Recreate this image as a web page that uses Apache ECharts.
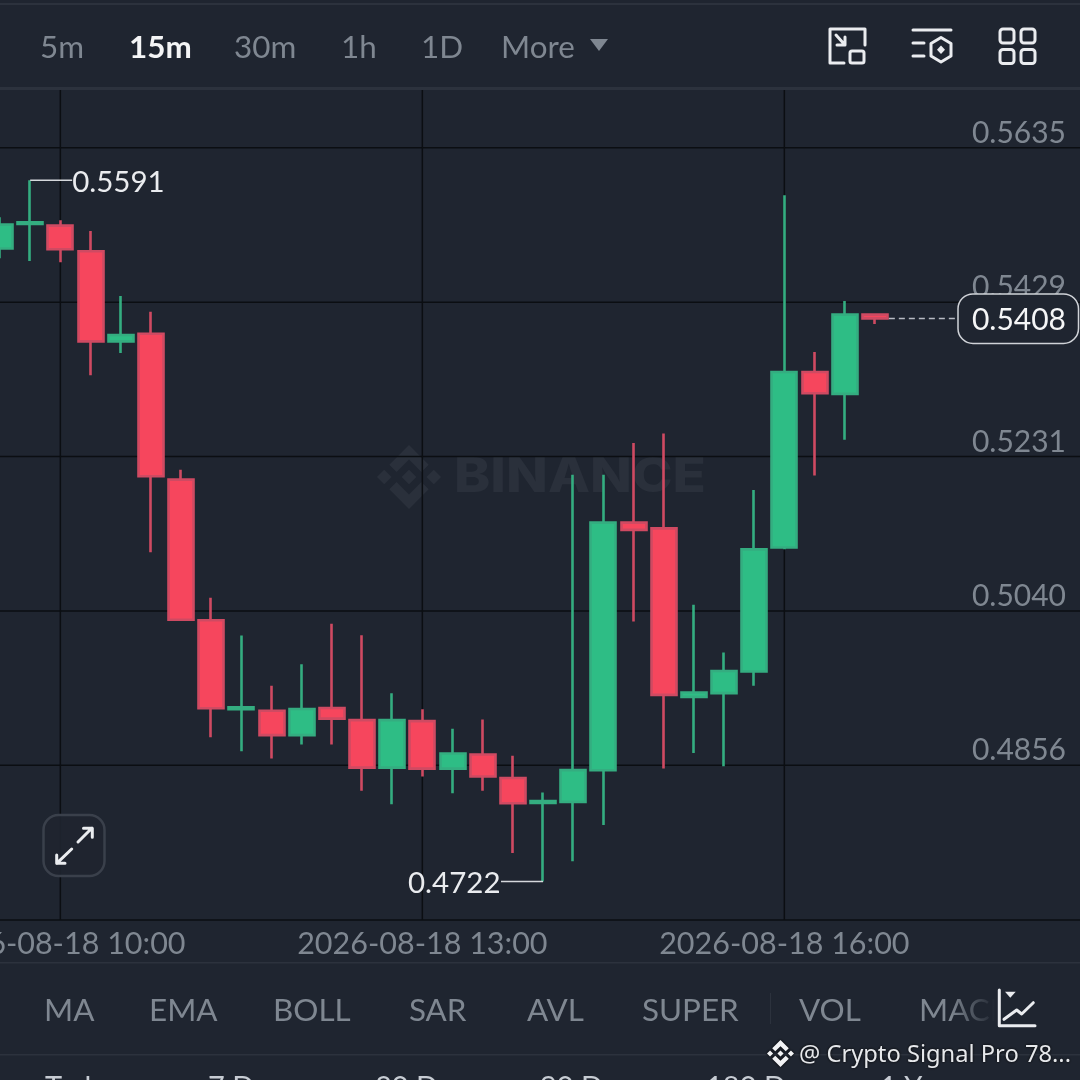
<!DOCTYPE html>
<html>
<head>
<meta charset="utf-8">
<style>html,body{margin:0;padding:0;background:#1f2530}#c{width:1080px;height:1080px}</style>
<script src="https://cdn.jsdelivr.net/npm/echarts@6/dist/echarts.min.js"></script>
</head>
<body>
<div id="c"></div>
<script>
// ---------- data ----------
const times = [
 '2026-08-18 09:30','2026-08-18 09:45','2026-08-18 10:00','2026-08-18 10:15','2026-08-18 10:30','2026-08-18 10:45',
 '2026-08-18 11:00','2026-08-18 11:15','2026-08-18 11:30','2026-08-18 11:45','2026-08-18 12:00','2026-08-18 12:15',
 '2026-08-18 12:30','2026-08-18 12:45','2026-08-18 13:00','2026-08-18 13:15','2026-08-18 13:30','2026-08-18 13:45',
 '2026-08-18 14:00','2026-08-18 14:15','2026-08-18 14:30','2026-08-18 14:45','2026-08-18 15:00','2026-08-18 15:15',
 '2026-08-18 15:30','2026-08-18 15:45','2026-08-18 16:00','2026-08-18 16:15','2026-08-18 16:30','2026-08-18 16:45',
 '2026-08-18 17:00','2026-08-18 17:15','2026-08-18 17:30','2026-08-18 17:45','2026-08-18 18:00','2026-08-18 18:15','2026-08-18 18:30'
];
// open, close, low, high
const candles = [
 [0.54998,0.55315,0.54868,0.55415],[0.55325,0.55345,0.54832,0.5591],[0.55302,0.54988,0.54815,0.55375],
 [0.54962,0.53781,0.53344,0.55229],[0.53781,0.53863,0.53631,0.54374],[0.5388,0.52061,0.51118,0.54166],
 [0.52019,0.50293,0.50284,0.52144],[0.50287,0.49232,0.4889,0.50561],[0.4922,0.49243,0.48723,0.50102],
 [0.49202,0.48914,0.48639,0.49498],[0.48914,0.49222,0.48803,0.49756],[0.49234,0.49109,0.48803,0.50245],
 [0.49091,0.48532,0.48264,0.50106],[0.48532,0.49091,0.48107,0.49411],[0.49079,0.48521,0.48429,0.4922],
 [0.48521,0.48698,0.48233,0.4899],[0.48686,0.48429,0.48264,0.49097],[0.48411,0.48118,0.47543,0.48672],
 [0.48122,0.48143,0.4722,0.48241],[0.48134,0.48503,0.47451,0.52079],[0.48502,0.51483,0.47865,0.52079],
 [0.51483,0.51393,0.50272,0.52481],[0.51412,0.4939,0.48521,0.526],[0.49367,0.49419,0.48704,0.50474],
 [0.49411,0.49675,0.48549,0.49896],[0.49669,0.51153,0.49498,0.51888],[0.51176,0.53385,0.51155,0.55709],
 [0.53385,0.53113,0.5207,0.53643],[0.53105,0.54129,0.5252,0.54307],[0.54129,0.5408,0.54008,0.54129]
];
const priceTicks = [0.5635,0.5429,0.5231,0.5040,0.4856];
const timeTicks = ['2026-08-18 10:00','2026-08-18 13:00','2026-08-18 16:00'];
const highMark = ['2026-08-18 09:45',0.5591];
const lowMark = ['2026-08-18 14:00',0.4722];
const lastMark = ['2026-08-18 16:45',0.5408];
const tabs = ['5m','15m','30m','1h','1D','More'];
const indicators = ['MA','EMA','BOLL','SAR','AVL','SUPER','VOL','MACD'];
const ranges = ['Today','7 Days','30 Days','90 Days','180 Days','1 Y'];

// ---------- style ----------
const BG='#1f2530', LINE='#0b0e12', GRAY='#7f8791', WHITE='#eaecef', RULE='#2c323d', FONT='Lato';
const logoPath='M9.79 13.47L16 7.26l6.21 6.21 3.62-3.62L16 0 6.17 9.83zM0 16l3.62-3.62L7.24 16l-3.62 3.62zM9.79 18.53L16 24.74l6.21-6.21 3.62 3.62L16 32 6.17 22.17zM24.76 16l3.62-3.62L32 16l-3.62 3.62zM19.67 16L16 19.67 12.33 16 16 12.33z';

const tabX=[40,129,234,341,421,501];
const indX=[44,149,273,409,527,642,799,919];
const rangeX=[45,208,375,540,706,880];

function T(text,x,y,fs,fill,extra){
  return {type:'text',z:10,silent:true,x:x,y:y,style:Object.assign({text:text,fontFamily:FONT,fontSize:fs,fill:fill,verticalAlign:'middle'},extra||{})};
}
function L(d){
  return {type:'path',shape:{pathData:d},style:{fill:null,stroke:WHITE,lineWidth:3,lineCap:'round',lineJoin:'round'}};
}
function R(x,y,w,h,fill){
  return {type:'rect',z:9,silent:true,shape:{x:x,y:y,width:w,height:h},style:{fill:fill}};
}
const chrome=[
  // rules
  R(0,3,1080,2,RULE),R(0,87,1080,3,RULE),R(0,962,1080,1.5,RULE),R(0,1054,1080,1.5,RULE),
  R(770,993,1,31,RULE),
  {type:'text',z:0,silent:true,x:454,y:477.5,scaleX:1.14,style:{text:'BINANCE',fontFamily:'Inter',fontWeight:800,fontSize:48,fill:'#2a303b',verticalAlign:'middle'}}
];
tabs.forEach((t,i)=>chrome.push(T(t,tabX[i],48,31.4,t==='15m'?'#f4f5f6':GRAY,{fontWeight:t==='15m'?700:400})));
chrome.push({type:'polygon',z:10,silent:true,shape:{points:[[590,39],[608,39],[599,51]]},style:{fill:GRAY}});
indicators.forEach((t,i)=>chrome.push(T(t,indX[i],1011,31.4,GRAY)));
ranges.forEach((t,i)=>chrome.push(T(t,rangeX[i],1088,29,'#c7ccd3')));
// fade over MACD
chrome.push({type:'rect',z:11,silent:true,shape:{x:950,y:985,width:45,height:50},style:{fill:{type:'linear',x:0,y:0,x2:1,y2:0,colorStops:[{offset:0,color:'rgba(31,37,48,0)'},{offset:1,color:BG}]}}});
chrome.push(Object.assign(R(995,985,85,50,BG),{z:11}));
const strokeRect=(x,y,w,h,r)=>({type:'rect',z:12,silent:true,shape:{x:x,y:y,width:w,height:h,r:r},style:{fill:'transparent',stroke:WHITE,lineWidth:3}});
chrome.push(
 strokeRect(850,51,14,12,2),
 {type:'polygon',z:12,silent:true,shape:{points:[[941,45.5],[945,49.7],[941,54],[937,49.7]]},style:{fill:WHITE}},
 strokeRect(1000,29,14,14,3),strokeRect(1021,29,14,14,3),strokeRect(1000,49.5,14,14,3),strokeRect(1021,49.5,14,14,3),
 {type:'polygon',z:12,silent:true,shape:{points:[[1005,991.7],[1015.7,991.7],[1010.3,997.7]]},style:{fill:WHITE}},
 {type:'rect',z:12,silent:true,shape:{x:43.5,y:815,width:61,height:61,r:15},style:{fill:'rgba(31,37,48,0.9)',stroke:'#3a404b',lineWidth:2.5}},
 {type:'text',z:12,silent:true,x:799,y:1055.5,style:{text:'@ Crypto Signal Pro 78...',fontFamily:'Noto Sans',fontSize:23.7,fill:'#e6e8eb',verticalAlign:'middle',textShadowColor:'#000',textShadowBlur:3}}
);
const iconPaths=[
 L('M865 45V29H830V63H844'),L('M836 35L845 45M845 37V45H837'),
 L('M913 30H951'),L('M913 43H924'),L('M913 56H924'),L('M941 37.5L951 43.5V56L941 62L931 56V43.5Z'),
 L('M999.3 990V1025.7H1035'),L('M1004 1019.3L1016.7 1010L1021.7 1014L1033.3 1002.7'),
 L('M78 842L92 828M83.5 828.3H92.3V837.3'),L('M71.7 849L56.7 863.3M56.7 855V863.3H65'),
 {type:'path',shape:{pathData:logoPath,layout:'cover',x:767,y:1040,width:27,height:27},style:{fill:'#f2f3f5',shadowColor:'#000',shadowBlur:3}}
];

const chart=echarts.init(document.getElementById('c'),null,{renderer:'canvas'});
chart.setOption({
  animation:false,
  backgroundColor:BG,
  grid:{left:-15.08,right:-21.1,top:90,bottom:160,containLabel:false,outerBoundsMode:'none'},
  xAxis:{type:'category',data:times,boundaryGap:true,
    axisLine:{show:true,lineStyle:{color:LINE,width:1.5}},axisTick:{show:false},splitLine:{show:false},
    axisLabel:{show:true,interval:(i,v)=>timeTicks.includes(v),color:GRAY,fontFamily:FONT,fontSize:30.5,margin:9,hideOverlap:false}},
  yAxis:{type:'log',logBase:10,min:0.46783,max:0.57139,show:false},
  graphic:{elements:chrome},
  series:[
    {type:'custom',name:'watermark logo',z:0,silent:true,clip:false,data:[[0,priceTicks[0]]],
     renderItem(){return {type:'path',shape:{pathData:logoPath,layout:'cover',x:377,y:445,width:64,height:64},style:{fill:'#2a303b'}};}},
    {type:'custom',name:'price grid',z:1,silent:true,clip:false,data:priceTicks.map(v=>[0,v]),encode:{x:0,y:1},
     renderItem(p,api){
       const y=api.coord([0,api.value(1)])[1];
       return {type:'group',children:[
         {type:'line',shape:{x1:0,y1:y,x2:1080,y2:y},style:{stroke:LINE,lineWidth:1.5}},
         {type:'text',x:1066,y:y-14.5,z2:1,style:{text:priceTicks[p.dataIndex].toFixed(4),fontFamily:FONT,fontSize:30,fill:GRAY,align:'right',verticalAlign:'middle'}}
       ]};
     }},
    {type:'custom',name:'time grid',z:1,silent:true,clip:false,data:timeTicks.map(t=>[times.indexOf(t),priceTicks[0]]),encode:{x:0,y:1},
     renderItem(p,api){
       const x=api.coord([api.value(0),priceTicks[0]])[0], c=p.coordSys;
       return {type:'line',shape:{x1:x,y1:c.y,x2:x,y2:c.y+c.height},style:{stroke:LINE,lineWidth:1.5}};
     }},
    {type:'candlestick',name:'price',z:3,data:candles,barWidth:25.5,
     itemStyle:{color:'#2ebd85',color0:'#f6465d',borderColor:'#34ad80',borderColor0:'#cf4a62',borderWidth:2.6}},
    {type:'custom',name:'extremes',z:4,silent:true,clip:false,
     data:[[times.indexOf(highMark[0]),highMark[1]],[times.indexOf(lowMark[0]),lowMark[1]]],encode:{x:0,y:1},
     renderItem(p,api){
       const c=api.coord([api.value(0),api.value(1)]), high=p.dataIndex===0, end=c[0]+(high?42:-42);
       return {type:'group',children:[
         {type:'line',shape:{x1:c[0],y1:c[1],x2:end,y2:c[1]},style:{stroke:'#d5d8dc',lineWidth:1.5}},
         {type:'text',x:high?end:end-0.5,y:c[1]+2,style:{text:api.value(1).toFixed(4),fontFamily:FONT,fontSize:29.5,fill:WHITE,align:high?'left':'right',verticalAlign:'middle'}}
       ]};
     }},
    {type:'custom',name:'last price',z:5,silent:true,clip:false,
     data:[[times.indexOf(lastMark[0]),lastMark[1]]],encode:{x:0,y:1},
     renderItem(p,api){
       const c=api.coord([api.value(0),api.value(1)]);
       return {type:'group',children:[
         {type:'line',shape:{x1:c[0]+14,y1:c[1],x2:958,y2:c[1]},style:{stroke:'#b8bcc3',lineWidth:1.5,lineDash:[6,4]}},
         {type:'rect',shape:{x:958,y:c[1]-24.5,width:120.5,height:49.5,r:15},style:{fill:BG,stroke:'#d0d3d8',lineWidth:1.5}},
         {type:'text',x:1066,y:c[1]+1.5,z2:2,style:{text:api.value(1).toFixed(4),fontFamily:FONT,fontSize:30,fill:'#f5f6f7',align:'right',verticalAlign:'middle'}}
       ]};
     }},
    {type:'custom',name:'icons',z:13,silent:true,clip:false,data:[[0,priceTicks[0]]],
     renderItem(){return {type:'group',children:iconPaths};}}
  ]
});
</script>
</body>
</html>
